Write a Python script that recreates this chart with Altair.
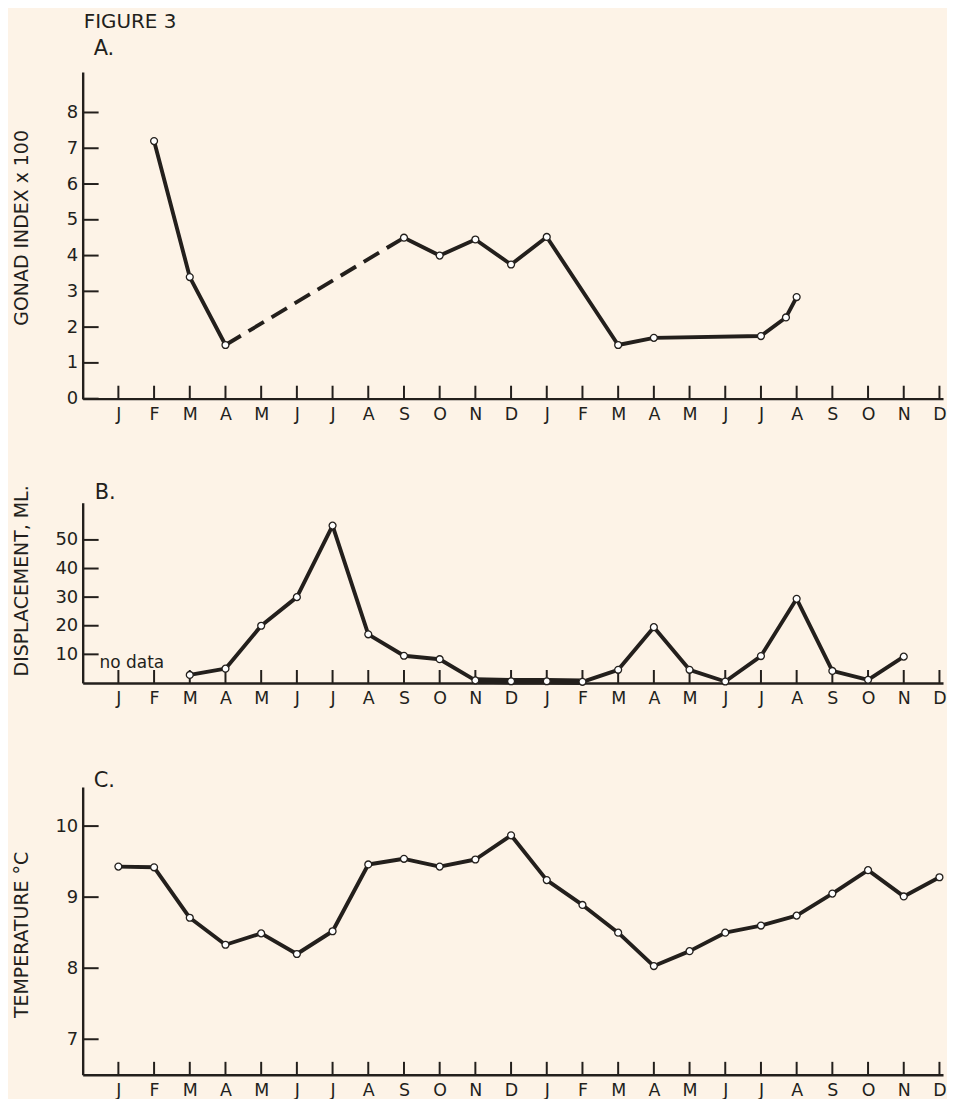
import json
import altair as alt
import pandas as pd

# ---------------- data ----------------
MONTHS = ["J", "F", "M", "A", "M", "J", "J", "A", "S", "O", "N", "D",
          "J", "F", "M", "A", "M", "J", "J", "A", "S", "O", "N", "D"]
MONTH_POS = list(range(24))

# A. Gonad index x 100
GONAD_X = [1, 2, 3, 8, 9, 10, 11, 12, 14, 15, 18, 18.7, 19]
GONAD_Y = [7.2, 3.4, 1.5, 4.5, 4.0, 4.45, 3.75, 4.52, 1.5, 1.7, 1.75, 2.27, 2.84]
GONAD_TICKS = [0, 1, 2, 3, 4, 5, 6, 7, 8]
GONAD_DASHED = (3, 8)          # interval drawn dashed (A -> S)

# B. Displacement, ml
DISP_X = list(range(2, 23))
DISP_Y = [2.8, 5, 20, 30, 55, 17, 9.5, 8.3, 0.9, 0.6, 0.6, 0.4, 4.6, 19.5,
          4.6, 0.5, 9.4, 29.4, 4.2, 1.1, 9.2]
DISP_TICKS = [10, 20, 30, 40, 50]
DISP_HEAVY = (10, 13)          # interval drawn with heavy line (N -> F)

# C. Temperature
TEMP_X = list(range(24))
TEMP_Y = [9.43, 9.42, 8.71, 8.33, 8.49, 8.20, 8.52, 9.46, 9.54, 9.43, 9.53, 9.87,
          9.24, 8.89, 8.50, 8.03, 8.24, 8.50, 8.60, 8.74, 9.05, 9.38, 9.01, 9.28]
TEMP_TICKS = [7, 8, 9, 10]

# ---------------- style ----------------
INK = "#231f1c"
BG = "#fdf3e7"
FONT = "DejaVu Sans"
W = 864
XDOM = [-1, 23.1]
LINE_W = 3.9

month_expr = json.dumps(MONTHS) + "[datum.value]"


def x_enc():
    return alt.X("x:Q",
                 scale=alt.Scale(domain=XDOM, nice=False, zero=False),
                 axis=alt.Axis(values=MONTH_POS, labelExpr=month_expr, title=None,
                               ticks=False, tickSize=0, grid=False,
                               domainColor=INK, domainWidth=2.4,
                               labelFont=FONT, labelFontSize=17.5, labelColor=INK,
                               labelPadding=7, labelFlush=False, labelOverlap=False))


def y_enc(dom, ticks, title, title_y):
    return alt.Y("y:Q",
                 scale=alt.Scale(domain=dom, nice=False, zero=False),
                 axis=alt.Axis(values=ticks, title=title, ticks=False, tickSize=0,
                               grid=False, domainColor=INK, domainWidth=2.4,
                               labelFont=FONT, labelFontSize=18, labelColor=INK,
                               labelPadding=5, labelFlush=False, labelOverlap=False,
                               titleFont=FONT, titleFontSize=19, titleFontWeight="normal",
                               titleColor=INK, titleAngle=270, titleX=-61, titleY=title_y,
                               titleBaseline="middle", titleAlign="center"))


def panel(pts, line_parts, y_dom, height, y_ticks, y_title, title_y, texts):
    X = x_enc()
    Y = y_enc(y_dom, y_ticks, y_title, title_y)
    layers = []
    # inward x ticks
    layers.append(alt.Chart(pd.DataFrame({"x": MONTH_POS})).mark_rule(
        color=INK, strokeWidth=2).encode(x=X, y=alt.value(height), y2=alt.value(height - 13)))
    # inward y ticks
    layers.append(alt.Chart(pd.DataFrame({"y": y_ticks})).mark_rule(
        color=INK, strokeWidth=2).encode(y=Y, x=alt.value(0), x2=alt.value(16)))
    for df, sw, dash in line_parts:
        props = dict(color=INK, strokeWidth=sw, strokeJoin="round", strokeCap="butt")
        if dash:
            props["strokeDash"] = dash
        layers.append(alt.Chart(df).mark_line(**props).encode(
            x=X, y=Y, detail="seg:N", order="x:Q"))
    layers.append(alt.Chart(pts).mark_point(
        filled=True, fill="white", stroke=INK, strokeWidth=1.3, size=48, opacity=1
    ).encode(x=X, y=Y))
    for txt, px, py, fs in texts:
        layers.append(alt.Chart(pd.DataFrame({"t": [txt]})).mark_text(
            align="left", baseline="middle", font=FONT, fontSize=fs, color=INK
        ).encode(text="t:N", x=alt.value(px), y=alt.value(py)))
    return alt.layer(*layers).properties(width=W, height=height)


# ---- panel A ----
ga = pd.DataFrame({"x": GONAD_X, "y": GONAD_Y})
a_solid = pd.concat([
    ga[ga.x <= GONAD_DASHED[0]].assign(seg="a"),
    ga[ga.x >= GONAD_DASHED[1]].assign(seg="b"),
])
a_dash = ga[(ga.x >= GONAD_DASHED[0]) & (ga.x <= GONAD_DASHED[1])].assign(seg="d")
panelA = panel(ga, [(a_solid, LINE_W, None), (a_dash, LINE_W, [18, 9])],
               [0, 9.13], 328, GONAD_TICKS, "GONAD INDEX x 100", 156,
               [("FIGURE 3", 1, -50, 20), ("A.", 11, -23, 21)])

# ---- panel B ----
db = pd.DataFrame({"x": DISP_X, "y": DISP_Y})
b_line = db.assign(seg="a")
b_heavy = db[(db.x >= DISP_HEAVY[0]) & (db.x <= DISP_HEAVY[1])].assign(seg="h")
panelB = panel(db, [(b_line, LINE_W, None), (b_heavy, 6.5, None)],
               [0, 63], 181, DISP_TICKS, "DISPLACEMENT, ML.", 78,
               [("B.", 12, -10, 21), ("no data", 17, 161, 17)])

# ---- panel C ----
tc = pd.DataFrame({"x": TEMP_X, "y": TEMP_Y})
panelC = panel(tc, [(tc.assign(seg="a"), LINE_W, None)],
               [6.5, 10.55], 289, TEMP_TICKS, "TEMPERATURE °C", 148,
               [("C.", 11, -6, 21)])

chart = alt.vconcat(panelA, panelB, panelC, spacing=104.5, bounds="flush").properties(
    padding={"left": 5, "top": 2, "right": 0, "bottom": 0},
    background=BG,
).configure_view(stroke=None)

chart.save("out.html", embed_options={"renderer": "svg", "actions": False})
